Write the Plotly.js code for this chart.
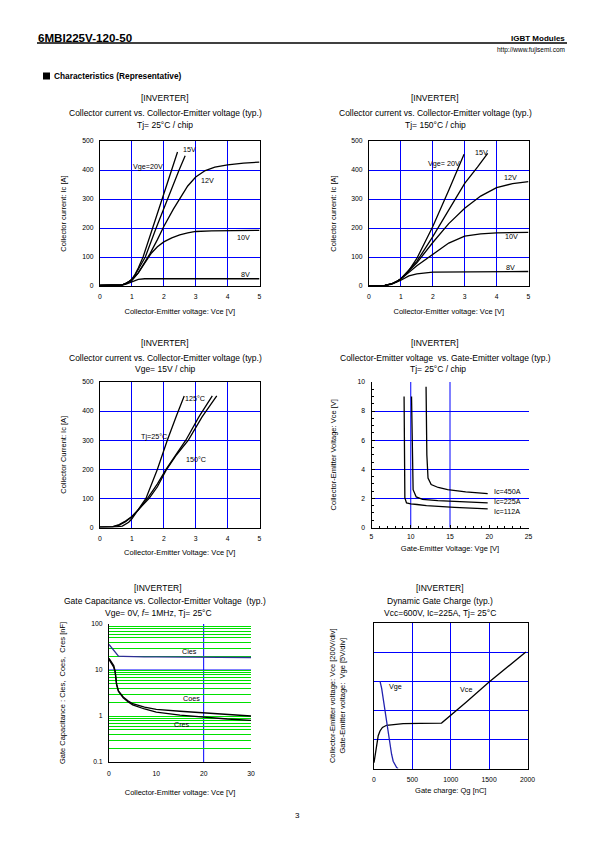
<!DOCTYPE html>
<html><head><meta charset="utf-8">
<script src="https://cdn.plot.ly/plotly-3.0.1.min.js"></script>
<style>html,body{margin:0;padding:0;background:#fff}#chart{width:595px;height:842px}</style>
</head><body><div id="chart"></div>
<script>
// ================= DATA =================
// Chart 1: Collector current vs Vce, Tj=25°C
const c1_vce_20V = [0, 0.5, 0.7, 0.8, 0.9, 1.0, 1.1, 1.2, 1.35, 1.65, 1.95, 2.2, 2.43];
const c1_ic_20V  = [2, 2, 4, 8, 14, 24, 40, 62, 100, 200, 300, 385, 462];
const c1_vce_15V = [0, 0.5, 0.7, 0.8, 0.9, 1.0, 1.1, 1.25, 1.42, 1.76, 2.11, 2.48, 2.67];
const c1_ic_15V  = [2, 2, 4, 8, 14, 22, 38, 65, 100, 200, 300, 400, 449];
const c1_vce_12V = [0, 0.5, 0.7, 0.8, 0.9, 1.0, 1.2, 1.4, 1.56, 1.8, 2.0, 2.3, 2.5, 2.75, 3.0, 3.3, 3.6, 4.0, 4.5, 5.0];
const c1_ic_12V  = [2, 2, 4, 8, 13, 20, 45, 80, 110, 160, 205, 265, 300, 345, 376, 398, 410, 418, 424, 427];
const c1_vce_10V = [0, 0.5, 0.7, 0.8, 0.9, 1.0, 1.2, 1.4, 1.6, 1.8, 2.0, 2.25, 2.5, 2.75, 3.0, 3.5, 4.0, 5.0];
const c1_ic_10V  = [2, 2, 4, 8, 13, 20, 45, 78, 112, 135, 152, 166, 176, 183, 188, 190, 191, 192];
const c1_vce_8V  = [0, 0.5, 0.7, 0.8, 0.9, 1.0, 1.1, 1.2, 1.4, 2.0, 3.0, 4.0, 5.0];
const c1_ic_8V   = [2, 2, 4, 6, 10, 15, 20, 23, 25, 25, 25, 25, 25];
const c1_labels  = ['Vge=20V', '15V', '12V', '10V', '8V'];
const c1_label_x = [1.51, 2.81, 3.36, 4.51, 4.56];
const c1_label_y = [411, 471, 363, 168, 40];

// Chart 2: Collector current vs Vce, Tj=150°C
const c2_vce_20V = [0, 0.5, 0.7, 0.9, 1.0, 1.2, 1.5, 2.0, 2.5, 2.98];
const c2_ic_20V  = [1, 2, 7, 17, 25, 45, 95, 205, 330, 454];
const c2_vce_15V = [0, 0.5, 0.7, 0.9, 1.0, 1.5, 2.0, 2.5, 3.0, 3.4, 3.72];
const c2_ic_15V  = [1, 2, 7, 17, 25, 85, 170, 262, 354, 410, 457];
const c2_vce_12V = [0, 0.5, 0.7, 0.9, 1.0, 1.5, 2.0, 2.5, 3.0, 3.5, 4.0, 4.5, 5.0];
const c2_ic_12V  = [1, 2, 7, 17, 25, 80, 150, 215, 268, 310, 339, 353, 360];
const c2_vce_10V = [0, 0.5, 0.7, 0.9, 1.0, 1.5, 2.0, 2.5, 3.0, 3.5, 4.0, 5.0];
const c2_ic_10V  = [1, 2, 7, 17, 24, 70, 108, 148, 172, 180, 183, 185];
const c2_vce_8V  = [0, 0.5, 0.7, 0.9, 1.0, 1.25, 1.5, 2.0, 3.0, 4.0, 5.0];
const c2_ic_8V   = [1, 2, 6, 14, 20, 35, 42, 48, 49, 49, 50];
const c2_labels  = ['Vge= 20V', '15V', '12V', '10V', '8V'];
const c2_label_x = [2.34, 3.54, 4.45, 4.48, 4.45];
const c2_label_y = [422, 462, 375, 169, 63];

// Chart 3: Collector current vs Vce, Vge=15V
const c3_vce_25C  = [0, 0.5, 0.7, 0.9, 1.0, 1.2, 1.44, 1.8, 2.11, 2.4, 2.64];
const c3_ic_25C   = [1, 2, 5, 18, 30, 60, 100, 200, 300, 385, 452];
const c3_vce_125C = [0, 0.4, 0.6, 0.8, 1.0, 1.2, 1.49, 1.8, 2.07, 2.4, 2.69, 3.1, 3.52];
const c3_ic_125C  = [1, 2, 8, 20, 37, 60, 100, 150, 200, 255, 300, 380, 452];
const c3_vce_150C = [0, 0.4, 0.6, 0.8, 1.0, 1.2, 1.54, 1.8, 2.09, 2.4, 2.77, 3.2, 3.66];
const c3_ic_150C  = [1, 3, 10, 22, 38, 60, 100, 140, 200, 250, 300, 380, 452];
const c3_labels  = ['125°C', 'Tj=25°C', '150°C'];
const c3_label_x = [2.97, 1.70, 3.0];
const c3_label_y = [443, 312, 232];

// Chart 4: Vce vs Vge, Tj=25°C
const c4_vge_112A = [9.15, 9.2, 9.25, 9.46, 10.0, 10.8, 12.0, 15.57, 19.8];
const c4_vce_112A = [9.0, 4.0, 2.03, 1.69, 1.62, 1.58, 1.5, 1.39, 1.28];
const c4_vge_225A = [10.1, 10.2, 10.3, 10.7, 11.5, 13.45, 16.0, 19.8];
const c4_vce_225A = [9.0, 4.0, 2.6, 2.1, 1.93, 1.85, 1.77, 1.69];
const c4_vge_450A = [11.95, 12.05, 12.2, 12.6, 13.5, 14.7, 17.0, 19.8];
const c4_vce_450A = [9.68, 5.0, 3.4, 2.95, 2.75, 2.6, 2.45, 2.33];
const c4_labels  = ['Ic=450A', 'Ic=225A', 'Ic=112A'];
const c4_label_x = [20.4, 20.4, 20.4];
const c4_label_y = [2.49, 1.76, 1.12];

// Chart 5: Gate capacitance vs Vce
const c5_vce      = [0, 0.5, 1, 1.3, 1.6, 2, 3, 4, 5, 7.5, 10, 15, 20, 25, 30];
const c5_cies     = [36, 31, 26, 24, 22, 20, 19.8, 19.6, 19.5, 19.3, 19.2, 19.0, 18.8, 18.7, 18.7];
const c5_coes     = [18, 15, 12.5, 9.5, 5, 3.5, 2.6, 2.15, 1.85, 1.55, 1.4, 1.27, 1.18, 1.08, 1.0];
const c5_cres     = [17, 14, 11.5, 9, 4.8, 3.4, 2.5, 2.05, 1.75, 1.42, 1.22, 1.05, 0.94, 0.86, 0.8];
const c5_labels  = ['Cies', 'Coes', 'Cres'];
const c5_label_x = [17.1, 17.5, 15.4];
const c5_label_y = [25.3, 2.38, 0.655];
const c5_ytickvals = [0.1, 1, 10, 100];
const c5_yticktext = ['0.1', '1', '10', '100'];

// Chart 6: Dynamic gate charge
const c6_qg_vce = [0, 20, 35, 55, 78, 110, 164, 250, 380, 600, 880, 1200, 1500, 1978];
const c6_vce    = [40, 110, 189, 225, 258, 282, 297, 303, 308, 310, 312, 455, 595, 800];
const c6_qg_vge = [78, 100, 120, 143, 165, 186, 208, 229, 250, 272, 295, 315];
const c6_vge    = [15, 13.75, 12, 9.85, 7.75, 5.85, 4.0, 2.45, 1.25, 0.55, 0.15, 0];
const c6_labels  = ['Vge', 'Vce'];
const c6_label_x = [285, 1200];
const c6_label_y = [563, 540];

// ================= LAYOUT =================
const W = 595, H = 842;
const FONT = 'Liberation Sans, Arial, DejaVu Sans, sans-serif';
const NARROW = 'Liberation Sans Narrow, Arial Narrow, Liberation Sans, sans-serif';
const px = v => v / W;
const py = v => 1 - v / H;
const dx = (a, b) => [a / W, b / W];
const dy = (top, bottom) => [1 - bottom / H, 1 - top / H];
const BLUE = '#0000ff';

const tickfont = {family: FONT, size: 6.8, color: '#000'};
const titlefont = {family: FONT, size: 7.5, color: '#000'};
function ax(extra) {
  return Object.assign({
    showline: true, linecolor: '#000', linewidth: 1, mirror: true,
    showgrid: true, gridcolor: BLUE, gridwidth: 1, zeroline: false,
    ticks: '', tickfont: tickfont, fixedrange: true, automargin: false
  }, extra);
}

const lineBlack = {color: '#000', width: 1.3};
function tr(x, y, xa, ya, line) {
  return {x: x, y: y, xaxis: xa, yaxis: ya, type: 'scatter', mode: 'lines',
          line: line || lineBlack, hoverinfo: 'skip', showlegend: false};
}

const traces = [
  tr(c1_vce_20V, c1_ic_20V, 'x', 'y'),
  tr(c1_vce_15V, c1_ic_15V, 'x', 'y'),
  tr(c1_vce_12V, c1_ic_12V, 'x', 'y'),
  tr(c1_vce_10V, c1_ic_10V, 'x', 'y'),
  tr(c1_vce_8V, c1_ic_8V, 'x', 'y'),
  tr(c2_vce_20V, c2_ic_20V, 'x2', 'y2'),
  tr(c2_vce_15V, c2_ic_15V, 'x2', 'y2'),
  tr(c2_vce_12V, c2_ic_12V, 'x2', 'y2'),
  tr(c2_vce_10V, c2_ic_10V, 'x2', 'y2'),
  tr(c2_vce_8V, c2_ic_8V, 'x2', 'y2'),
  tr(c3_vce_25C, c3_ic_25C, 'x3', 'y3'),
  tr(c3_vce_125C, c3_ic_125C, 'x3', 'y3'),
  tr(c3_vce_150C, c3_ic_150C, 'x3', 'y3'),
  tr(c4_vge_112A, c4_vce_112A, 'x4', 'y4'),
  tr(c4_vge_225A, c4_vce_225A, 'x4', 'y4'),
  tr(c4_vge_450A, c4_vce_450A, 'x4', 'y4'),
  tr(c5_vce, c5_cies, 'x5', 'y5', {color: '#2e2e96', width: 1.3}),
  tr(c5_vce, c5_coes, 'x5', 'y5'),
  tr(c5_vce, c5_cres, 'x5', 'y5'),
  tr(c6_qg_vce, c6_vce, 'x6', 'y6'),
  tr(c6_qg_vge, c6_vge, 'x6', 'y7', {color: '#2222b0', width: 1.3})
];

const annotations = [];
function ann(text, x, y, opts) {
  annotations.push(Object.assign({text: text, x: x, y: y, xref: 'paper', yref: 'paper',
    showarrow: false, xanchor: 'center', yanchor: 'middle',
    font: {family: FONT, size: 8.5, color: '#000'}}, opts || {}));
}
// header
ann('<b>6MBI225V-120-50</b>', px(36), py(37), {xanchor: 'left', font: {family: NARROW, size: 11.6, color: '#000'}});
ann('<b>IGBT Modules</b>', px(567), py(38), {xanchor: 'right', font: {family: NARROW, size: 8, color: '#000'}});
ann('http://www.fujisemi.com', px(567), py(50), {xanchor: 'right', font: {family: NARROW, size: 6.5, color: '#000'}});
ann('<b>Characteristics (Representative)</b>', px(51.5), py(76), {xanchor: 'left', font: {family: FONT, size: 8.3, color: '#000'}});
ann('3', px(297), py(815), {font: {family: FONT, size: 8, color: '#000'}});

// chart titles
function titleBlock(cx, lines, ys, cxs) {
  lines.forEach((t, i) => ann(t, px(cxs ? cxs[i] : cx), py(ys[i])));
}
titleBlock(165, ['[INVERTER]', 'Collector current vs. Collector-Emitter voltage (typ.)', 'Tj= 25°C / chip'], [98, 112.5, 124.5]);
titleBlock(435, ['[INVERTER]', 'Collector current vs. Collector-Emitter voltage (typ.)', 'Tj= 150°C / chip'], [98, 112.5, 124.5]);
titleBlock(165, ['[INVERTER]', 'Collector current vs. Collector-Emitter voltage (typ.)', 'Vge= 15V / chip'], [343, 357.5, 369]);
titleBlock(0, ['[INVERTER]', 'Collector-Emitter voltage  vs. Gate-Emitter voltage (typ.)', 'Tj= 25°C / chip'], [343, 357.5, 369], [435, 445, 438]);
titleBlock(0, ['[INVERTER]', 'Gate Capacitance vs. Collector-Emitter Voltage  (typ.)', 'Vge= 0V, <i>f</i>= 1MHz, Tj= 25°C'], [587.5, 601, 613], [158, 165, 158]);
titleBlock(440, ['[INVERTER]', 'Dynamic Gate Charge (typ.)', 'Vcc=600V, Ic=225A, Tj= 25°C'], [587.5, 600.5, 612.5]);

// curve labels
function curveLabels(labels, xs, ys, xr, yr, anchor) {
  labels.forEach((t, i) => annotations.push({text: t, x: xs[i], y: ys[i], xref: xr, yref: yr,
    showarrow: false, xanchor: anchor || 'center', yanchor: 'middle',
    font: {family: FONT, size: 7.2, color: '#000'}}));
}
curveLabels(c1_labels, c1_label_x, c1_label_y, 'x', 'y');
curveLabels(c2_labels, c2_label_x, c2_label_y, 'x2', 'y2');
curveLabels(c3_labels, c3_label_x, c3_label_y, 'x3', 'y3');
curveLabels(c4_labels, c4_label_x, c4_label_y, 'x4', 'y4', 'left');
curveLabels(c5_labels, c5_label_x, c5_label_y.map(v => Math.log10(v)), 'x5', 'y5');
curveLabels(c6_labels, c6_label_x, c6_label_y, 'x6', 'y6');

const shapes = [
  {type: 'line', xref: 'paper', yref: 'paper', x0: px(37), x1: px(567), y0: py(43), y1: py(43), line: {color: '#000', width: 1.5}},
  // section bullet square
  {type: 'rect', xref: 'paper', yref: 'paper', x0: px(43), x1: px(50), y0: py(79.5), y1: py(72.5), fillcolor: '#000', line: {width: 0}},
  // chart 4 vertical grid lines
  {type: 'line', xref: 'x4', yref: 'y4 domain', x0: 10, x1: 10, y0: 0, y1: 1, line: {color: BLUE, width: 1}, layer: 'below'},
  {type: 'line', xref: 'x4', yref: 'y4 domain', x0: 15, x1: 15, y0: 0, y1: 1, line: {color: BLUE, width: 1}, layer: 'below'},
  // chart 5 blue grid lines (shape positions on log axes are data values)
  {type: 'line', xref: 'x5 domain', yref: 'y5', x0: 0, x1: 1, y0: 10, y1: 10, line: {color: BLUE, width: 1}, layer: 'below'},
  {type: 'line', xref: 'x5', yref: 'y5 domain', x0: 20, x1: 20, y0: 0, y1: 1, line: {color: BLUE, width: 1}, layer: 'below'}
];

const layout = {
  width: W, height: H, margin: {l: 0, r: 0, t: 0, b: 0},
  paper_bgcolor: '#fff', plot_bgcolor: '#fff', showlegend: false,
  font: {family: FONT, color: '#000'},
  xaxis: ax({domain: dx(100, 259.5), range: [0, 5], dtick: 1, anchor: 'y', ticklabelstandoff: 4,
    title: {text: 'Collector-Emitter voltage: Vce [V]', font: titlefont, standoff: 9}}),
  yaxis: ax({domain: dy(141, 286), range: [0, 500], dtick: 100, anchor: 'x', ticklabelstandoff: 4,
    title: {text: 'Collector current: Ic [A]', font: titlefont, standoff: 14}}),
  xaxis2: ax({domain: dx(369, 528.5), range: [0, 5], dtick: 1, anchor: 'y2', ticklabelstandoff: 4,
    title: {text: 'Collector-Emitter voltage: Vce [V]', font: titlefont, standoff: 9}}),
  yaxis2: ax({domain: dy(141, 286), range: [0, 500], dtick: 100, anchor: 'x2', ticklabelstandoff: 4,
    title: {text: 'Collector current: Ic [A]', font: titlefont, standoff: 13}}),
  xaxis3: ax({domain: dx(100, 259.5), range: [0, 5], dtick: 1, anchor: 'y3', ticklabelstandoff: 4,
    title: {text: 'Collector-Emitter Voltage: Vce [V]', font: titlefont, standoff: 9}}),
  yaxis3: ax({domain: dy(382, 527.5), range: [0, 500], dtick: 100, anchor: 'x3', ticklabelstandoff: 4,
    title: {text: 'Collector Current: Ic [A]', font: titlefont, standoff: 14}}),
  xaxis4: ax({domain: dx(371.5, 528.5), range: [5, 25], dtick: 5, anchor: 'y4', mirror: false, showgrid: false,
    ticks: 'inside', ticklen: 3, tickcolor: '#000', ticklabelstandoff: 2,
    minor: {dtick: 1, ticks: 'inside', ticklen: 2, tickcolor: '#000', showgrid: false},
    title: {text: 'Gate-Emitter Voltage: Vge [V]', font: titlefont, standoff: 7}}),
  yaxis4: ax({domain: dy(382, 527.5), range: [0, 10], dtick: 2, anchor: 'x4', mirror: false,
    ticks: 'inside', ticklen: 3, tickcolor: '#000', ticklabelstandoff: 4,
    minor: {dtick: 0.5, ticks: 'inside', ticklen: 2, tickcolor: '#000', showgrid: false},
    title: {text: 'Collector-Emitter Voltage: Vce [V]', font: titlefont, standoff: 19}}),
  xaxis5: ax({domain: dx(109, 251), range: [0, 30], dtick: 10, anchor: 'y5', mirror: false, showgrid: false,
    ticklabelstandoff: 5,
    title: {text: 'Collector-Emitter voltage: Vce [V]', font: titlefont, standoff: 13}}),
  yaxis5: ax({domain: dy(624, 762), type: 'log', range: [-1, 2], anchor: 'x5', mirror: false,
    tickvals: c5_ytickvals, ticktext: c5_yticktext, gridcolor: '#00e000', ticklabelstandoff: 4,
    minor: {dtick: 'D1', showgrid: true, gridcolor: '#00e000', gridwidth: 1, ticks: ''},
    title: {text: 'Gate Capacitance : Cies,  Coes,  Cres [nF]', font: titlefont, standoff: 24}}),
  xaxis6: ax({domain: dx(374, 527.5), range: [0, 2000], dtick: 500, anchor: 'y6', ticklabelstandoff: 4,
    title: {text: 'Gate charge: Qg [nC]', font: titlefont, standoff: 6}}),
  yaxis6: ax({domain: dy(623, 768.5), range: [0, 1000], dtick: 200, anchor: 'x6', showticklabels: false,
    title: {text: 'Collector-Emitter voltage: Vce [200V/div]<br>Gate-Emitter voltage:  Vge [5V/div]', font: titlefont, standoff: 26}}),
  yaxis7: {overlaying: 'y6', range: [0, 25], visible: false, fixedrange: true, anchor: 'x6'},
  annotations: annotations,
  shapes: shapes
};

Plotly.newPlot('chart', traces, layout, {staticPlot: true, displayModeBar: false});
</script></body></html>
